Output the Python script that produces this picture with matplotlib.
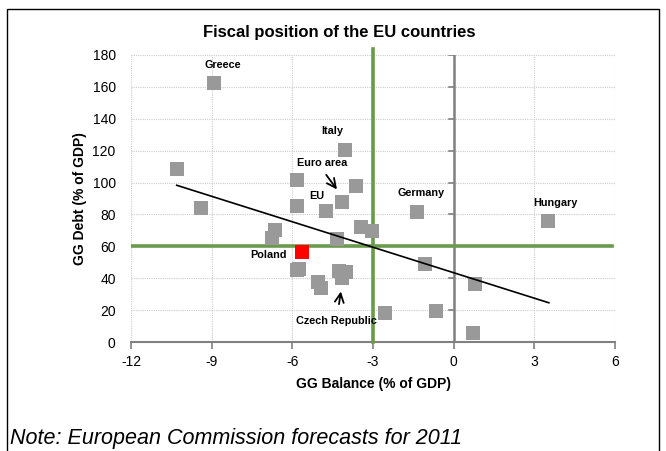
import matplotlib
matplotlib.use("Agg")
import matplotlib.pyplot as plt
from matplotlib.patches import Rectangle

plt.rcParams['font.family'] = ['Liberation Sans', 'DejaVu Sans']

# General government balance vs. debt, % of GDP
balance = [-8.91, -10.30, -9.41, -4.04, -5.84, -3.65, -4.14, -4.73, -5.84,
           -3.45, -3.05, -6.65, -6.74, -4.34, -5.84, -5.74, -4.26, -4.01,
           -4.15, -5.04, -4.95, -2.56, -1.36, -1.06, -0.66, 0.80, 0.73, 3.51]
debt = [162.6, 108.3, 84.0, 120.4, 101.6, 97.7, 88.0, 82.3, 85.5,
        72.0, 69.7, 70.0, 65.0, 64.4, 45.1, 45.6, 44.7, 44.1,
        40.0, 37.8, 34.1, 18.0, 81.7, 48.9, 19.5, 36.4, 5.8, 75.9]
poland_balance = [-5.63]
poland_debt = [56.2]

# Linear trend endpoints
trend_x = [-10.3, 3.54]
trend_y = [98.3, 24.6]

# Maastricht reference values
deficit_limit = -3
debt_limit = 60

xticks = [-12, -9, -6, -3, 0, 3, 6]
yticks = [0, 20, 40, 60, 80, 100, 120, 140, 160, 180]

fig = plt.figure(figsize=(6.66, 4.51), dpi=100)
ax = fig.add_axes([131/666, 1 - 342/451, (615 - 131)/666, (342 - 55)/451])

ax.set_xlim(-12, 6)
ax.set_ylim(0, 180)
ax.set_xticks(xticks)
ax.set_yticks(yticks)
ax.set_xticklabels([str(v) for v in xticks], fontsize=10)
ax.set_yticklabels([str(v) for v in yticks], fontsize=10)
ax.grid(True, color='#cccccc', linestyle=(0, (1, 1)), linewidth=0.8)
ax.set_axisbelow(True)

for s in ['top', 'right', 'left']:
    ax.spines[s].set_visible(False)
ax.spines['bottom'].set_color('#808080')
ax.spines['bottom'].set_linewidth(1.5)
ax.tick_params(axis='x', direction='out', length=5, color='#808080', width=1.2, pad=4)
ax.tick_params(axis='y', length=0, pad=11)

# vertical axis through zero balance, with its own ticks
ax.plot([0, 0], [0, 180], color='#808080', lw=1.8, zorder=2)
for v in yticks:
    ax.plot([-0.18, 0], [v, v], color='#808080', lw=1.2, zorder=2)

# reference lines
ax.plot([deficit_limit, deficit_limit], [0, 183.8], color='#6a9a4c', lw=2.6,
        zorder=3, clip_on=False)
ax.plot([-12, 5.9], [debt_limit, debt_limit], color='#6a9a4c', lw=2.6, zorder=3)

ax.scatter(balance, debt, marker='s', s=88, color='#999999', zorder=4, linewidths=0)
ax.scatter(poland_balance, poland_debt, marker='s', s=88, color='#ff0000', zorder=5,
           linewidths=0)
ax.plot(trend_x, trend_y, color='black', lw=1.2, zorder=6)

lbl = dict(fontsize=7.8, fontweight='bold', ha='center', va='center', zorder=7)
ax.text(-8.6, 173.5, 'Greece', **lbl)
ax.text(-4.52, 132.2, 'Italy', **lbl)
ax.text(-4.9, 112.0, 'Euro area', **lbl)
ax.text(-5.10, 91.3, 'EU', **lbl)
ax.text(-1.22, 93.3, 'Germany', **lbl)
ax.text(3.80, 87.0, 'Hungary', **lbl)
ax.text(-6.9, 54.5, 'Poland', **lbl)
ax.text(-4.36, 13.4, 'Czech Republic', **lbl)

arrow = dict(arrowstyle='->', color='black', lw=1.3, mutation_scale=16)
ax.annotate('', xy=(-4.28, 94.3), xytext=(-4.80, 106.2), arrowprops=arrow, zorder=7)
ax.annotate('', xy=(-4.18, 33.4), xytext=(-4.28, 22.0), arrowprops=arrow, zorder=7)

ax.set_xlabel('GG Balance (% of GDP)', fontsize=10, fontweight='bold', labelpad=6)
ax.set_ylabel('GG Debt (% of GDP)', fontsize=10, fontweight='bold', labelpad=4)

fig.text(339/666, 1 - 33/451, 'Fiscal position of the EU countries',
         fontsize=12, fontweight='bold', ha='center', va='center')
fig.text(10/666, 1 - 444/451, 'Note: European Commission forecasts for 2011',
         fontsize=15.5, fontstyle='italic', ha='left', va='baseline')

fig.patches.append(Rectangle((7/666, -0.05), (659 - 7)/666, 1 - 9/451 + 0.05,
                             transform=fig.transFigure, fill=False,
                             edgecolor='black', lw=1.0))

fig.savefig('out.png', dpi=100)
